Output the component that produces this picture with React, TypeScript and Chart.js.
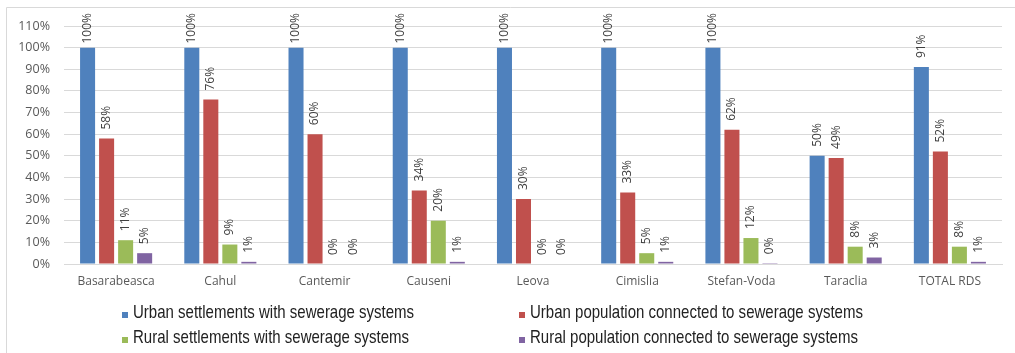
import { useEffect, useRef } from "react";
import { Chart, registerables } from "chart.js";

Chart.register(...registerables);

// Share of settlements / population with sewerage systems, by district
const districts = [
  "Basarabeasca",
  "Cahul",
  "Cantemir",
  "Causeni",
  "Leova",
  "Cimislia",
  "Stefan-Voda",
  "Taraclia",
  "TOTAL RDS",
];
const urbanSettlements = [100, 100, 100, 100, 100, 100, 100, 50, 91];
const urbanPopulation = [58, 76, 60, 34, 30, 33, 62, 49, 52];
const ruralSettlements = [11, 9, 0, 20, 0, 5, 12, 8, 8];
const ruralPopulation = [5, 1, 0, 1, 0, 1, 0.4, 3, 1];

const seriesNames = [
  "Urban settlements with sewerage systems",
  "Urban population connected to sewerage systems",
  "Rural settlements with sewerage systems",
  "Rural population connected to sewerage systems",
];
const seriesColors = ["#4F81BD", "#C0504D", "#9BBB59", "#8064A2"];

const yMax = 110;
const yStep = 10;

const W = 1015;
const H = 353;

// Thin frame along the top and left edges
const framePlugin = {
  id: "frame",
  beforeDraw(chart: any) {
    const ctx = chart.ctx;
    ctx.save();
    ctx.strokeStyle = "#d9d9d9";
    ctx.lineWidth = 1;
    ctx.beginPath();
    ctx.moveTo(6.5, H);
    ctx.lineTo(6.5, 7.5);
    ctx.lineTo(W, 7.5);
    ctx.stroke();
    ctx.restore();
  },
};

// Vertical value labels above each bar
const valueLabelPlugin = {
  id: "valueLabels",
  afterDatasetsDraw(chart: any) {
    const ctx = chart.ctx;
    ctx.save();
    ctx.font = '12px "Open Sans", sans-serif';
    ctx.fillStyle = "#404040";
    ctx.textAlign = "left";
    ctx.textBaseline = "middle";
    chart.data.datasets.forEach((ds: any, i: number) => {
      const meta = chart.getDatasetMeta(i);
      meta.data.forEach((bar: any, j: number) => {
        const text = Math.round(ds.data[j]) + "%";
        const w = ctx.measureText(text).width;
        const start = Math.max(bar.y - 9, 13 + w);
        ctx.save();
        ctx.translate(bar.x, start);
        ctx.rotate(-Math.PI / 2);
        ctx.fillText(text, 0, 0);
        ctx.restore();
      });
    });
    ctx.restore();
  },
};

// Two-column legend beneath the axis, set in a condensed face
const legendPlugin = {
  id: "twoColumnLegend",
  afterDraw(chart: any) {
    const ctx = chart.ctx;
    const colX = [122, 519];
    const rowBase = [318, 343];
    const condense = 0.79;
    ctx.save();
    ctx.font = '19px "Liberation Sans", Arial, sans-serif';
    ctx.textAlign = "left";
    ctx.textBaseline = "alphabetic";
    chart.data.datasets.forEach((ds: any, i: number) => {
      const x = colX[i % 2];
      const y = rowBase[Math.floor(i / 2)];
      ctx.fillStyle = ds.backgroundColor;
      ctx.fillRect(x, y - 6, 6, 6);
      ctx.fillStyle = "#222";
      ctx.save();
      ctx.translate(x + 11, y);
      ctx.scale(condense, 1);
      ctx.fillText(ds.label, 0, 0);
      ctx.restore();
    });
    ctx.restore();
  },
};

export default function App() {
  const canvasRef = useRef<HTMLCanvasElement | null>(null);

  useEffect(() => {
    document.body.style.margin = "0";
    const canvas = canvasRef.current;
    if (!canvas) return;
    const seriesValues = [urbanSettlements, urbanPopulation, ruralSettlements, ruralPopulation];
    const chart = new Chart(canvas, {
      type: "bar",
      data: {
        labels: districts,
        datasets: seriesValues.map((values, i) => ({
          label: seriesNames[i],
          data: values,
          backgroundColor: seriesColors[i],
          borderWidth: 0,
          categoryPercentage: 0.73,
          barPercentage: 0.79,
        })),
      },
      options: {
        responsive: false,
        animation: false,
        devicePixelRatio: 1,
        layout: { padding: { top: 26, right: 13, left: 0, bottom: 0 } },
        plugins: {
          legend: { display: false },
          tooltip: { enabled: false },
          title: { display: false },
        },
        scales: {
          x: {
            grid: { display: false, drawTicks: false },
            border: { display: true, color: "#d9d9d9" },
            ticks: {
              color: "#595959",
              font: { family: '"Open Sans", sans-serif', size: 12 },
              padding: 10,
              maxRotation: 0,
              autoSkip: false,
            },
            afterFit(scale: any) {
              scale.height = 89;
            },
          },
          y: {
            min: 0,
            max: yMax,
            grid: { color: "#d9d9d9", drawTicks: false },
            border: { display: false },
            ticks: {
              stepSize: yStep,
              color: "#595959",
              font: { family: '"Open Sans", sans-serif', size: 12.5 },
              padding: 14,
              callback: (v: any) => v + "%",
            },
            afterFit(scale: any) {
              scale.width = 64;
            },
          },
        },
      },
      plugins: [framePlugin, valueLabelPlugin, legendPlugin],
    });
    return () => chart.destroy();
  }, []);

  return (
    <div style={{ width: W, height: H, background: "#fff" }}>
      <canvas ref={canvasRef} width={W} height={H} />
    </div>
  );
}
